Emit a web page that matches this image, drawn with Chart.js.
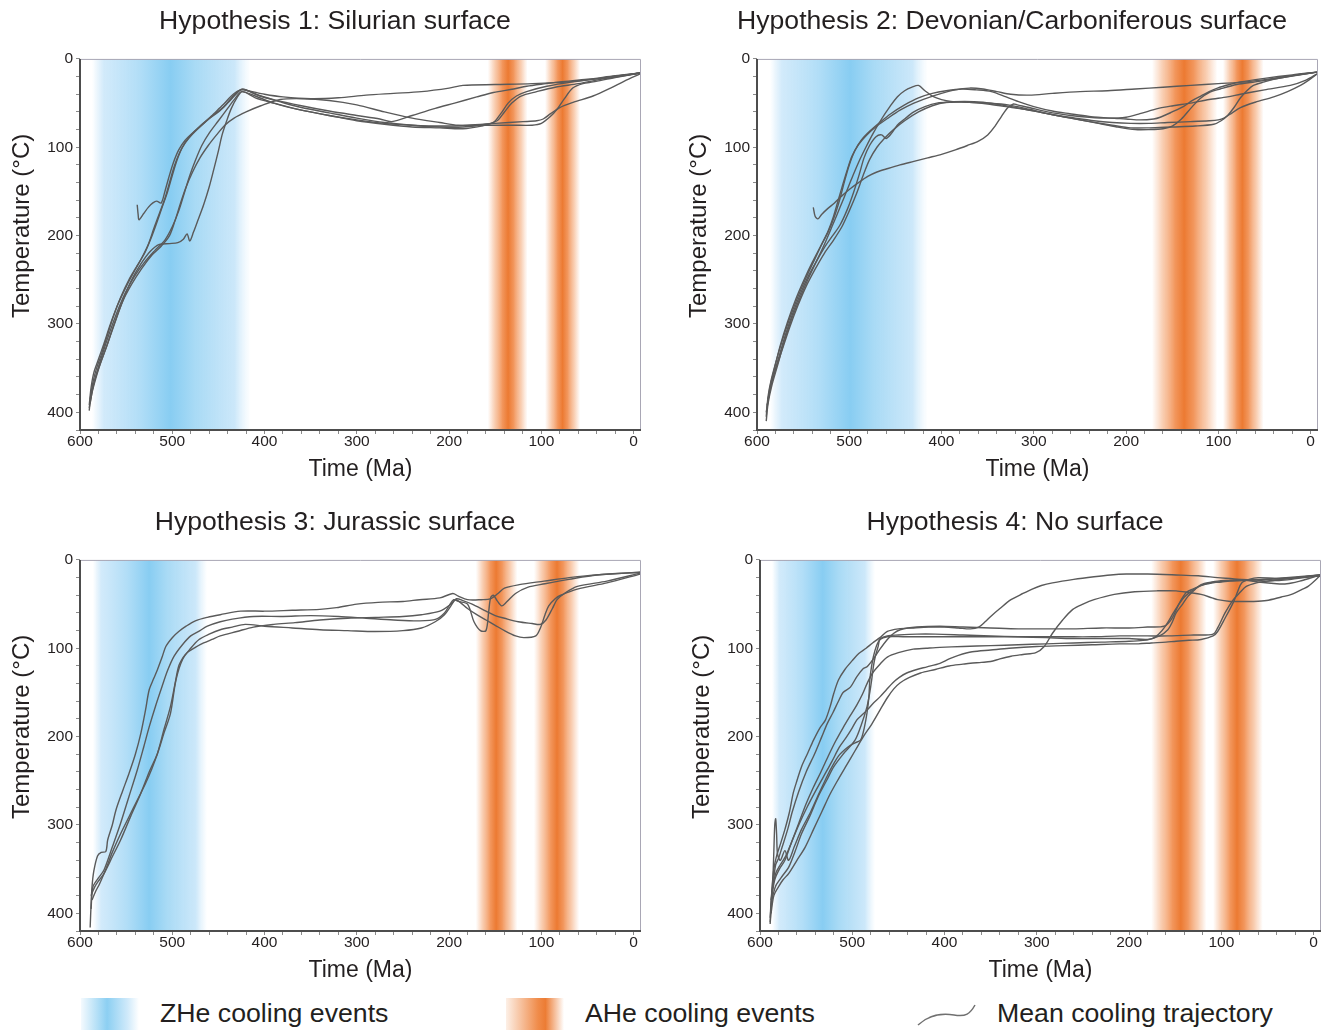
<!DOCTYPE html>
<html>
<head>
<meta charset="utf-8">
<script src="https://cdn.jsdelivr.net/npm/chart.js@4.4.1/dist/chart.umd.min.js"></script>
<style>
  html, body { margin: 0; padding: 0; background: #fff; overflow: hidden; }
  body { width: 1327px; height: 1030px; position: relative; font-family: "Liberation Sans", Arial, sans-serif; color: #231f20; }
  canvas.panel { position: absolute; }
  .swatch { position: absolute; top: 998px; width: 58px; height: 32px; }
  .ltext { position: absolute; top: 997px; font-size: 26.7px; line-height: 32px; white-space: nowrap; }
  .wave { position: absolute; left: 916px; top: 1002px; }
</style>
</head>
<body>
<canvas class="panel" id="h1" width="670" height="490" style="left:0;top:0"></canvas>
<canvas class="panel" id="h2" width="670" height="490" style="left:677px;top:0"></canvas>
<canvas class="panel" id="h3" width="670" height="490" style="left:0;top:501px"></canvas>
<canvas class="panel" id="h4" width="670" height="490" style="left:680px;top:501px"></canvas>

<div class="swatch" style="left:81px;background:linear-gradient(to right, rgba(200,230,250,0.2), rgb(140,207,242) 45%, rgba(195,228,249,0.8) 80%, rgba(255,255,255,0))"></div>
<div class="ltext" style="left:160px">ZHe cooling events</div>
<div class="swatch" style="left:506px;background:linear-gradient(to right, rgba(247,205,175,0.3), rgb(240,140,75) 55%, rgb(236,124,52) 68%, rgba(255,255,255,0))"></div>
<div class="ltext" style="left:585px">AHe cooling events</div>
<svg class="wave" width="62" height="26"><path d="M2 23 C 14 12, 26 11, 38 13 S 54 12, 59 3" fill="none" stroke="#707070" stroke-width="1.5"/></svg>
<div class="ltext" style="left:997px">Mean cooling trajectory</div>

<script>
// ---- data (Ma, °C) ----
const panelTitles = [
  "Hypothesis 1: Silurian surface",
  "Hypothesis 2: Devonian/Carboniferous surface",
  "Hypothesis 3: Jurassic surface",
  "Hypothesis 4: No surface",
];
const timeTickLabels = [600, 500, 400, 300, 200, 100, 0];
const tempTickLabels = [0, 100, 200, 300, 400];

// cooling bands: [start, peak, end] in Ma
const h1ZheBand = [587, 502, 415];
const h1AheBands = [[158, 136, 115], [96, 77, 58]];
const h2ZheBand = [586, 499, 415];
const h2AheBands = [[172, 137, 101], [95, 74, 51]];
const h3ZheBand = [586, 525, 462];
const h3AheBands = [[171, 149, 126], [108, 83, 59]];
const h4ZheBand = [587, 532, 475];
const h4AheBands = [[176, 144, 116], [109, 83, 55]];

const h1Paths = [
  [[590,392],[588,372],[585,355],[580,340],[574,322],[567,300],[559,278],[550,258],[541,240],[533,225],[526,210],[520,192],[514,175],[508,158],[503,140],[498,122],[492,106],[486,95],[478,85],[468,75],[456,64],[444,54],[434,42],[426,35],[418,36],[400,40],[380,43],[350,45],[320,44],[290,41],[260,39],[230,37],[200,33],[185,30],[150,29],[110,28],[70,26],[35,22],[-7,16]],
  [[589,385],[586,366],[582,350],[577,335],[571,315],[564,292],[556,270],[547,250],[538,234],[530,220],[523,203],[517,186],[511,168],[505,150],[500,132],[495,115],[489,100],[482,89],[473,79],[462,69],[450,60],[440,50],[431,40],[424,34],[410,40],[390,46],[360,53],[330,59],[300,64],[275,68],[262,71],[240,64],[215,56],[194,50],[170,43],[152,38],[130,34],[116,31],[95,28],[80,26],[50,23],[20,19],[-7,16]],
  [[590,398],[588,380],[583,360],[577,342],[570,322],[562,298],[553,272],[544,250],[534,232],[524,218],[514,210],[503,209],[494,208],[488,204],[484,198],[481,206],[477,196],[472,182],[466,165],[460,145],[455,125],[450,104],[446,86],[441,70],[436,56],[430,44],[424,37],[410,44],[390,50],[360,58],[330,64],[300,70],[270,74],[240,77],[210,78],[185,79],[165,76],[152,72],[144,62],[136,50],[127,42],[116,37],[94,31],[66,26],[30,21],[-7,16]],
  [[538,165],[537,176],[536,182],[531,175],[526,168],[521,163],[517,161],[512,163],[508,150],[504,135],[499,118],[493,103],[486,92],[476,82],[465,72],[455,62],[445,52],[436,42],[428,36],[420,35],[405,42],[385,48],[360,55],[330,61],[300,67],[270,72],[240,75],[210,77],[185,77],[160,74],[148,70],[140,60],[132,50],[122,42],[105,37],[85,32],[60,28],[30,22],[-7,16]],
  [[590,395],[587,378],[583,362],[578,345],[571,325],[563,300],[554,275],[544,255],[533,237],[522,222],[512,212],[503,200],[497,183],[491,163],[485,145],[478,128],[470,112],[461,98],[452,86],[443,75],[433,67],[420,60],[404,53],[383,46],[360,45],[330,47],[300,52],[270,60],[240,67],[210,72],[190,75],[160,75],[130,75],[110,75],[100,73],[90,65],[83,57],[75,45],[66,33],[55,28],[44,26],[20,21],[-7,16]],
  [[589,390],[586,372],[581,352],[575,332],[568,310],[560,287],[551,265],[541,246],[530,230],[519,217],[508,205],[500,190],[493,172],[487,152],[481,132],[475,115],[468,98],[460,84],[450,70],[440,56],[432,45],[425,37],[410,42],[390,50],[360,58],[330,64],[300,69],[270,73],[240,75],[210,76],[180,75],[150,73],[120,71],[105,70],[98,68],[90,62],[80,55],[65,49],[44,42],[25,33],[10,25],[-7,17]],
];

const h2Paths = [
  [[590,405],[588,382],[585,365],[580,345],[573,320],[565,295],[556,270],[547,248],[538,228],[530,210],[523,195],[517,178],[512,160],[507,142],[502,125],[497,110],[490,97],[481,86],[470,76],[458,67],[445,58],[430,50],[415,44],[400,39],[385,35],[370,33],[355,34],[340,37],[325,40],[305,41],[280,39],[250,37],[220,36],[190,34],[160,32],[130,30],[100,28],[70,26],[40,22],[15,18],[-7,15]],
  [[589,395],[586,372],[581,350],[575,325],[567,298],[558,272],[549,250],[540,230],[531,212],[523,196],[516,178],[510,158],[505,138],[500,120],[494,104],[487,92],[478,82],[467,72],[455,62],[440,52],[425,44],[410,39],[395,36],[378,34],[362,35],[346,37],[330,43],[315,49],[300,54],[280,59],[261,62],[240,65],[217,67],[200,68],[185,69],[170,68],[163,66],[150,60],[138,54],[128,47],[119,42],[110,37],[101,33],[88,29],[76,26],[50,22],[20,18],[-7,15]],
  [[590,410],[588,390],[584,370],[578,348],[571,322],[563,296],[554,272],[545,250],[536,230],[527,210],[518,188],[510,168],[503,150],[496,132],[489,115],[482,100],[474,84],[465,68],[456,54],[448,43],[440,36],[432,32],[425,30],[418,36],[410,42],[400,46],[390,48],[370,49],[350,50],[328,52],[305,57],[284,62],[260,67],[239,71],[215,75],[195,78],[175,78],[150,77],[125,76],[105,74],[97,70],[90,64],[83,55],[76,44],[68,35],[62,30],[50,26],[40,23],[20,19],[-7,15]],
  [[590,400],[587,380],[583,362],[577,340],[570,315],[562,290],[553,266],[544,245],[535,228],[526,212],[518,200],[510,188],[502,170],[495,150],[489,130],[484,112],[478,98],[471,88],[465,86],[460,90],[454,84],[448,75],[440,68],[430,60],[418,54],[405,50],[390,49],[370,49],[350,51],[330,54],[310,57],[290,61],[270,65],[250,69],[230,73],[210,77],[190,80],[175,80],[160,79],[150,76],[140,68],[130,56],[120,45],[110,38],[98,34],[80,29],[60,26],[30,21],[-7,15]],
  [[539,168],[537,178],[534,181],[530,176],[524,170],[516,163],[508,155],[499,147],[490,140],[480,133],[470,128],[458,124],[445,120],[430,116],[415,112],[400,108],[385,103],[372,98],[360,93],[350,86],[342,76],[335,65],[328,55],[322,51],[318,52],[305,55],[285,60],[260,64],[240,66],[220,67],[200,66],[185,62],[165,56],[149,53],[130,50],[110,46],[90,43],[76,40],[50,35],[22,30],[5,24],[-7,17]],
  [[589,392],[585,370],[580,352],[573,330],[565,305],[556,280],[547,258],[537,238],[527,220],[517,205],[508,190],[500,172],[492,152],[485,132],[478,114],[470,100],[462,90],[452,80],[440,70],[425,60],[410,53],[395,49],[375,48],[355,49],[335,52],[315,56],[295,60],[275,64],[255,67],[235,70],[215,72],[195,73],[175,73],[155,72],[130,71],[110,70],[100,69],[94,67],[85,61],[76,55],[60,49],[40,43],[25,37],[11,30],[2,24],[-7,17]],
];

const h3Paths = [
  [[589,416],[588,390],[587,370],[585,352],[581,335],[577,331],[572,330],[570,317],[565,300],[561,283],[554,262],[547,242],[540,220],[534,196],[529,170],[525,147],[520,134],[516,124],[511,110],[507,98],[500,88],[493,81],[485,75],[475,69],[462,65],[448,62],[426,58],[400,58],[370,57],[340,56],[322,54],[300,50],[277,48],[250,47],[232,45],[210,43],[196,38],[190,41],[180,45],[165,45],[155,44],[147,38],[140,32],[124,28],[97,24],[70,20],[52,18],[25,16],[-7,14]],
  [[588,395],[586,370],[580,360],[574,351],[565,325],[556,298],[547,268],[538,238],[531,212],[525,189],[518,165],[511,143],[505,125],[498,109],[489,96],[480,86],[470,80],[462,75],[448,70],[435,67],[412,64],[380,64],[350,63],[320,64],[290,66],[260,68],[232,69],[214,67],[205,60],[200,52],[195,45],[190,47],[180,50],[173,70],[166,80],[160,80],[157,58],[155,43],[152,40],[148,46],[143,52],[138,48],[128,38],[115,31],[96,27],[70,22],[40,17],[-7,14]],
  [[587,385],[583,375],[579,367],[572,350],[565,331],[556,310],[547,291],[538,272],[529,253],[522,236],[516,219],[509,192],[502,166],[497,140],[493,120],[488,110],[484,105],[475,99],[466,94],[457,90],[448,86],[430,81],[412,76],[390,73],[367,71],[340,68],[310,66],[280,65],[250,64],[230,62],[210,58],[198,50],[192,44],[185,46],[175,50],[160,58],[150,63],[140,66],[125,70],[110,72],[101,73],[95,68],[88,55],[83,45],[75,38],[61,30],[29,24],[-7,15]],
  [[588,380],[584,370],[579,362],[574,355],[565,336],[556,317],[545,290],[534,264],[525,240],[516,219],[509,196],[502,174],[496,136],[489,113],[480,100],[471,90],[460,84],[448,79],[435,76],[421,73],[400,75],[370,77],[340,79],[310,80],[280,81],[250,80],[230,77],[215,70],[205,62],[198,52],[193,45],[188,48],[180,55],[170,62],[160,68],[150,74],[140,80],[128,86],[119,88],[106,86],[101,77],[96,62],[92,52],[85,44],[79,40],[61,33],[29,26],[-7,16]],
];

const h4Paths = [
  [[589,410],[587,372],[585,350],[582,335],[578,322],[573,305],[568,285],[564,264],[560,250],[555,234],[548,218],[542,204],[535,190],[529,181],[524,166],[520,151],[515,136],[508,124],[500,114],[493,106],[485,100],[478,94],[470,88],[462,81],[450,78],[435,77],[417,76],[400,76],[385,77],[372,78],[363,76],[356,70],[350,64],[340,55],[328,45],[315,38],[305,33],[295,29],[283,26],[260,22],[238,19],[220,17],[203,16],[180,16],[149,17],[125,18],[104,20],[80,22],[60,25],[40,27],[29,27],[15,24],[5,21],[-7,17]],
  [[588,400],[585,380],[580,370],[575,362],[569,355],[560,340],[551,325],[542,305],[533,285],[524,265],[515,248],[506,232],[497,216],[488,200],[479,186],[470,170],[462,156],[455,146],[448,139],[438,133],[426,128],[410,124],[395,120],[380,118],[372,117],[360,116],[350,115],[340,112],[328,109],[315,107],[301,105],[292,98],[283,83],[272,68],[261,56],[250,50],[238,45],[216,39],[194,36],[170,35],[149,35],[135,37],[122,39],[110,43],[104,45],[90,47],[82,47],[65,47],[51,46],[35,42],[24,39],[12,33],[6,30],[-7,18]],
  [[589,412],[587,385],[584,372],[582,367],[576,358],[569,348],[562,330],[555,310],[546,290],[537,268],[528,250],[520,234],[510,220],[497,204],[490,186],[484,166],[481,150],[479,136],[477,120],[475,109],[472,98],[470,90],[462,86],[450,85],[430,84],[410,84],[380,85],[350,86],[320,87],[290,88],[260,89],[230,89],[200,89],[180,90],[167,86],[158,79],[153,70],[149,60],[142,50],[136,41],[128,33],[122,28],[110,25],[104,24],[90,23],[78,22],[60,23],[51,24],[35,22],[15,20],[-7,17]],
  [[587,380],[585,360],[583,345],[580,338],[576,325],[570,305],[565,285],[558,262],[550,240],[541,220],[533,200],[527,185],[521,173],[515,160],[510,150],[502,144],[495,132],[488,123],[484,121],[477,112],[470,101],[462,90],[455,83],[448,79],[430,76],[405,75],[380,76],[350,77],[320,78],[290,78],[260,78],[230,77],[200,77],[180,76],[162,75],[154,67],[145,48],[138,37],[131,33],[120,28],[113,26],[100,25],[91,24],[70,23],[50,22],[30,21],[-7,17]],
  [[588,395],[586,360],[585,330],[584,300],[583,293],[582,310],[581,333],[578,340],[573,329],[569,340],[563,325],[555,305],[545,285],[535,262],[525,240],[515,222],[505,212],[497,207],[491,204],[487,190],[484,173],[482,155],[481,136],[479,120],[477,109],[474,98],[470,90],[462,87],[445,87],[420,87],[390,87],[360,87],[330,87],[300,87],[270,87],[240,87],[210,86],[180,86],[158,86],[130,85],[109,84],[104,77],[96,60],[87,45],[80,37],[73,30],[62,26],[51,24],[35,23],[24,22],[10,20],[-7,18]],
  [[589,405],[587,375],[583,355],[578,345],[572,335],[566,320],[558,300],[549,280],[540,262],[531,245],[522,228],[514,212],[506,200],[500,190],[495,181],[489,175],[484,170],[477,162],[470,155],[463,147],[456,139],[449,133],[441,128],[430,124],[419,121],[405,117],[395,112],[385,108],[370,104],[350,102],[330,100],[300,98],[270,97],[240,96],[210,95],[190,95],[176,94],[160,93],[149,92],[135,91],[122,90],[109,86],[104,81],[96,66],[87,48],[82,35],[78,26],[70,22],[60,20],[40,21],[20,20],[-7,18]],
  [[588,385],[584,362],[579,350],[573,340],[566,320],[558,298],[550,276],[542,257],[534,240],[526,222],[518,205],[510,190],[502,176],[495,164],[489,152],[484,140],[478,128],[470,118],[462,110],[450,105],[434,101],[420,100],[405,99],[380,98],[350,97],[320,96],[290,95],[260,94],[230,93],[200,92],[185,91],[175,89],[168,84],[160,74],[152,60],[146,50],[140,42],[132,35],[122,29],[110,26],[96,24],[80,23],[60,22],[40,21],[-7,17]],
];

const TIME_MIN = -8, TIME_MAX = 600;
const TEMP_MAX = 420;
const MINOR_STEP = 20;
const LINE_COLOR = "#5a5a5a";
const TEXT_COLOR = "#231f20";
const FONT = "'Liberation Sans', Arial, sans-serif";
const Y_TITLE = "Temperature (°C)";

// 渐变冷却带：起点、峰值、终点均按 x 轴换算成像素
function bandGradient(ctx, x0, xp, x1, kind) {
  const g = ctx.createLinearGradient(x0, 0, x1, 0);
  const p = Math.min(0.95, Math.max(0.05, (xp - x0) / (x1 - x0)));
  const r = 1 - p;
  if (kind === "zhe") {
    g.addColorStop(0, "rgba(205,232,250,0)");
    g.addColorStop(p * 0.15, "rgba(205,232,250,0.9)");
    g.addColorStop(p * 0.6, "rgba(178,222,247,1)");
    g.addColorStop(p, "rgb(136,205,242)");
    g.addColorStop(p + r * 0.3, "rgb(168,218,245)");
    g.addColorStop(p + r * 0.8, "rgba(198,229,249,0.9)");
    g.addColorStop(1, "rgba(215,237,251,0)");
  } else {
    g.addColorStop(0, "rgba(246,185,145,0)");
    g.addColorStop(p * 0.35, "rgba(246,182,140,0.7)");
    g.addColorStop(p * 0.72, "rgb(242,150,92)");
    g.addColorStop(p, "rgb(236,122,50)");
    g.addColorStop(p + r * 0.28, "rgb(242,150,92)");
    g.addColorStop(p + r * 0.65, "rgba(246,182,140,0.7)");
    g.addColorStop(1, "rgba(246,185,145,0)");
  }
  return g;
}

const coolingBands = {
  id: "coolingBands",
  // 标题居中于整张画布（而不是去掉右侧留白后的区域）
  afterLayout(chart) {
    const t = chart.titleBlock;
    if (t) { t.left = 0; t.right = chart.width; t.width = chart.width; }
  },
  beforeDatasetsDraw(chart, args, opts) {
    const { ctx, chartArea: a, scales: { x } } = chart;
    const bands = [{ range: opts.zhe, kind: "zhe" }].concat(
      opts.ahe.map((r) => ({ range: r, kind: "ahe" }))
    );
    ctx.save();
    ctx.beginPath();
    ctx.rect(a.left, a.top, a.width, a.height);
    ctx.clip();
    for (const b of bands) {
      const x0 = x.getPixelForValue(b.range[0]);
      const xp = x.getPixelForValue(b.range[1]);
      const x1 = x.getPixelForValue(b.range[2]);
      ctx.fillStyle = bandGradient(ctx, x0, xp, x1, b.kind);
      ctx.fillRect(x0, a.top, x1 - x0, a.height);
    }
    ctx.restore();
  },
  // 边框：左/下深灰粗线，上/右浅灰细线；纵轴标题略高于绘图区中心
  afterDatasetsDraw(chart) {
    const { ctx, chartArea: a } = chart;
    ctx.save();
    ctx.strokeStyle = "#a9a7b5";
    ctx.lineWidth = 1;
    ctx.beginPath();
    ctx.moveTo(a.left, a.top + 0.5);
    ctx.lineTo(a.right - 0.5, a.top + 0.5);
    ctx.lineTo(a.right - 0.5, a.bottom);
    ctx.stroke();
    ctx.strokeStyle = "#4d4d4d";
    ctx.lineWidth = 2;
    ctx.beginPath();
    ctx.moveTo(a.left, a.top);
    ctx.lineTo(a.left, a.bottom);
    ctx.lineTo(a.right, a.bottom);
    ctx.stroke();

    ctx.translate(22, a.top + a.height * 0.45);
    ctx.rotate(-Math.PI / 2);
    ctx.fillStyle = TEXT_COLOR;
    ctx.font = `24px ${FONT}`;
    ctx.textAlign = "center";
    ctx.textBaseline = "middle";
    ctx.fillText(Y_TITLE, 0, 0);
    ctx.restore();
  },
};

function minorTicks(max) {
  const out = [];
  for (let v = 0; v <= max; v += MINOR_STEP) out.push({ value: v });
  return out;
}

function createPanel(id, title, paths, zhe, ahe) {
  const ctx = document.getElementById(id).getContext("2d");
  return new Chart(ctx, {
    type: "line",
    data: {
      datasets: paths.map((p) => ({
        data: p.map(([x, y]) => ({ x, y })),
        borderColor: LINE_COLOR,
        borderWidth: 1.4,
        pointRadius: 0,
        tension: 0.3,
        fill: false,
      })),
    },
    options: {
      responsive: false,
      animation: false,
      events: [],
      layout: { padding: { left: 0, right: 29, top: 0, bottom: 0 } },
      scales: {
        x: {
          type: "linear",
          reverse: true,
          min: TIME_MIN,
          max: TIME_MAX,
          afterFit: (s) => { s.height = 60; },
          afterBuildTicks: (s) => { s.ticks = minorTicks(TIME_MAX); },
          grid: { drawOnChartArea: false, drawTicks: true, tickLength: 4, color: "#8a8a8a" },
          border: { display: false },
          ticks: {
            autoSkip: false,
            maxRotation: 0,
            padding: -2,
            color: TEXT_COLOR,
            font: { family: FONT, size: 15.5 },
            callback: (v) => (timeTickLabels.includes(v) ? String(v) : ""),
          },
          title: {
            display: true,
            text: "Time (Ma)",
            color: TEXT_COLOR,
            font: { family: FONT, size: 23 },
            padding: { top: 0, bottom: 7 },
          },
        },
        y: {
          reverse: true,
          min: 0,
          max: TEMP_MAX,
          afterFit: (s) => { s.width = 80; },
          afterBuildTicks: (s) => { s.ticks = minorTicks(TEMP_MAX); },
          grid: { drawOnChartArea: false, drawTicks: true, tickLength: 4, color: "#8a8a8a" },
          border: { display: false },
          ticks: {
            autoSkip: false,
            padding: 3,
            color: TEXT_COLOR,
            font: { family: FONT, size: 15.5 },
            callback: (v) => (tempTickLabels.includes(v) ? String(v) : ""),
          },
          title: { display: false },
        },
      },
      plugins: {
        legend: { display: false },
        tooltip: { enabled: false },
        title: {
          display: true,
          text: title,
          color: TEXT_COLOR,
          font: { family: FONT, size: 26.6, weight: "normal" },
          padding: { top: 6, bottom: 21 },
        },
        coolingBands: { zhe, ahe },
      },
    },
    plugins: [coolingBands],
  });
}

createPanel("h1", panelTitles[0], h1Paths, h1ZheBand, h1AheBands);
createPanel("h2", panelTitles[1], h2Paths, h2ZheBand, h2AheBands);
createPanel("h3", panelTitles[2], h3Paths, h3ZheBand, h3AheBands);
createPanel("h4", panelTitles[3], h4Paths, h4ZheBand, h4AheBands);
</script>
</body>
</html>
